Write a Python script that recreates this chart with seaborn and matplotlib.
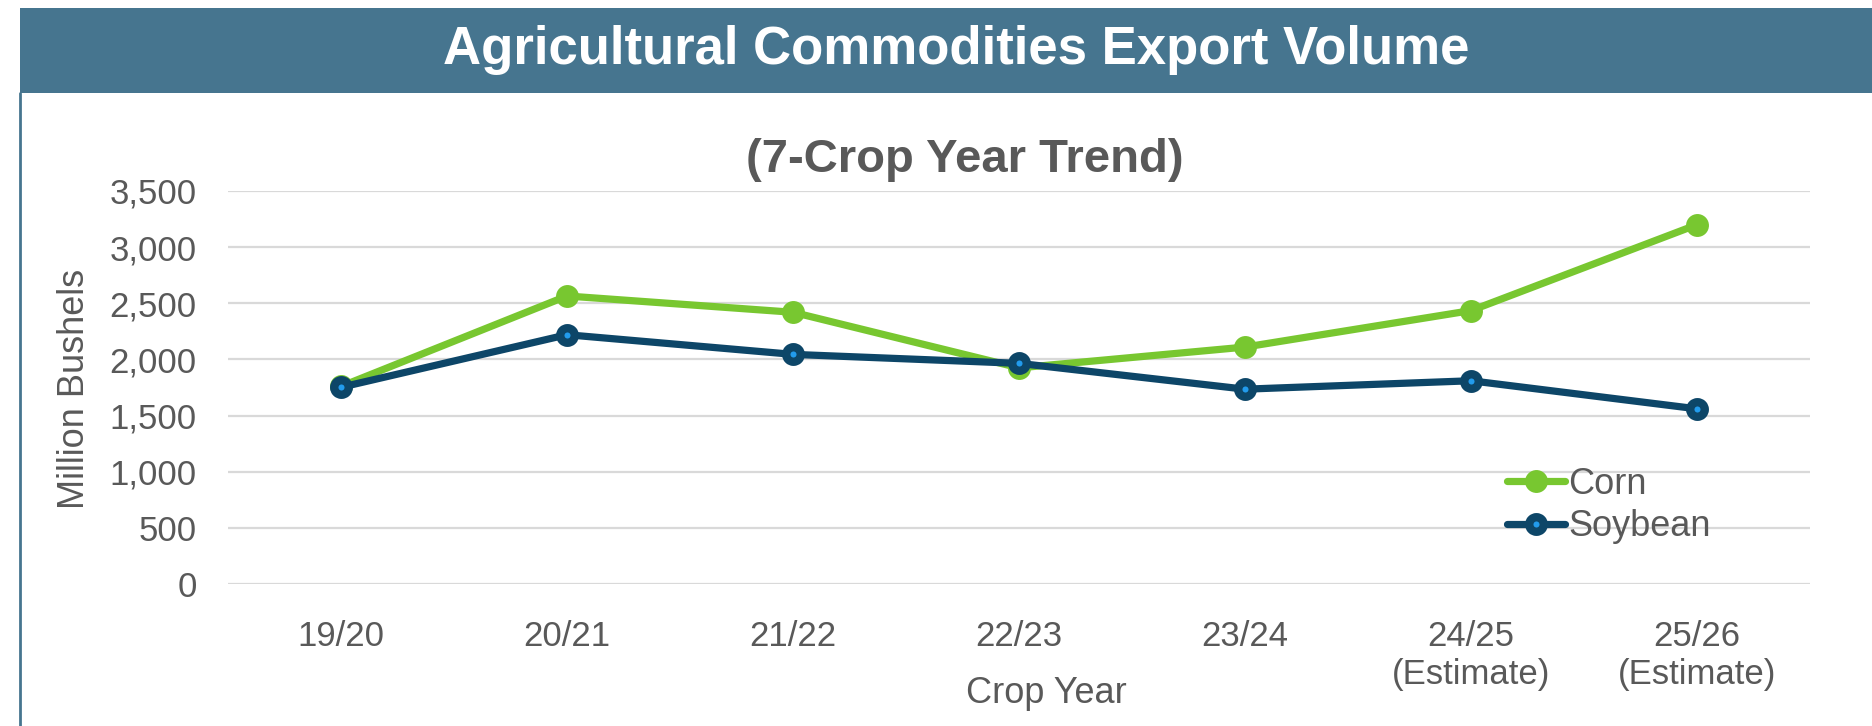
import matplotlib
matplotlib.use("Agg")
import matplotlib.pyplot as plt
from matplotlib.lines import Line2D
from matplotlib.patches import Rectangle
from matplotlib.ticker import FuncFormatter, MultipleLocator
import pandas as pd
import seaborn as sns

# Export volume in million bushels per crop year
crop_years = ["19/20", "20/21", "21/22", "22/23", "23/24",
              "24/25\n(Estimate)", "25/26\n(Estimate)"]
corn = [1760, 2565, 2420, 1925, 2110, 2435, 3200]
soybean = [1752, 2220, 2045, 1965, 1735, 1810, 1560]

BANNER = "#46758F"
CORN_C = "#78C730"
SOY_C = "#0D4668"
SOY_DOT = "#229BEC"
TEXT_C = "#595959"
GRID_C = "#D9D9D9"

sns.set_theme(style="white")
plt.rcParams["font.family"] = ["Liberation Sans", "DejaVu Sans"]

fig = plt.figure(figsize=(18.72, 7.26), dpi=100)
ax = fig.add_axes([228 / 1872, 1 - 584 / 726, (1810 - 228) / 1872, (584 - 191) / 726])

pos = list(range(len(crop_years)))
df_corn = pd.DataFrame({"pos": pos, "value": corn})
df_soy = pd.DataFrame({"pos": pos, "value": soybean})

sns.lineplot(data=df_corn, x="pos", y="value", ax=ax, color=CORN_C, linewidth=5.2,
             marker="o", markersize=16.5, markeredgewidth=0, label="Corn",
             solid_capstyle="round", zorder=3)
sns.lineplot(data=df_soy, x="pos", y="value", ax=ax, color=SOY_C, linewidth=5.2,
             marker="o", markersize=10.5, markeredgewidth=6,
             markerfacecolor=SOY_DOT, markeredgecolor=SOY_C, label="Soybean",
             solid_capstyle="round", zorder=4)

ax.set_xlim(-0.5, len(crop_years) - 0.5)
ax.set_ylim(0, 3500)
ax.yaxis.set_major_locator(MultipleLocator(500))
ax.yaxis.set_major_formatter(FuncFormatter(lambda v, p: f"{int(v):,}"))
ax.set_xticks(pos)
ax.set_xticklabels(crop_years)

ax.grid(axis="y", color=GRID_C, linewidth=1.6)
ax.grid(axis="x", visible=False)
ax.set_axisbelow(True)
for s in ax.spines.values():
    s.set_visible(False)

ax.tick_params(axis="y", length=0, pad=22.5, labelsize=25, labelcolor=TEXT_C)
ax.tick_params(axis="x", length=0, pad=26, labelsize=25, labelcolor=TEXT_C)

ax.set_ylabel("Million Bushels", fontsize=26, color=TEXT_C)
ax.yaxis.set_label_coords((92 - 228) / (1810 - 228), (584 - 389) / (584 - 191))
ax.set_xlabel("Crop Year", fontsize=26, color=TEXT_C)
ax.xaxis.set_label_coords((1046 - 228) / (1810 - 228), -(676 - 584) / (584 - 191))

leg = ax.legend(loc="upper left",
                bbox_to_anchor=((1507 - 228) / (1810 - 228), (584 - 467) / (584 - 191)),
                frameon=False, fontsize=26, handlelength=1.6, handletextpad=0.1,
                labelspacing=0.2, borderaxespad=0, borderpad=0)
for t in leg.get_texts():
    t.set_color(TEXT_C)

# Header banner and frame line
fig.patches.append(Rectangle((20 / 1872, 1 - 93 / 726), 1, 85 / 726,
                             transform=fig.transFigure, facecolor=BANNER,
                             edgecolor="none", zorder=0))
fig.lines.append(Line2D([20 / 1872, 20 / 1872], [0, 1 - 93 / 726],
                        transform=fig.transFigure, color=BANNER, linewidth=2))
fig.text(956 / 1872, 1 - 50 / 726, "Agricultural Commodities Export Volume",
         ha="center", va="center", fontsize=38, fontweight="bold", color="white")
fig.text(965 / 1872, 1 - 160 / 726, "(7-Crop Year Trend)",
         ha="center", va="center", fontsize=34, fontweight="bold", color=TEXT_C)

fig.savefig("out.png", dpi=100)
